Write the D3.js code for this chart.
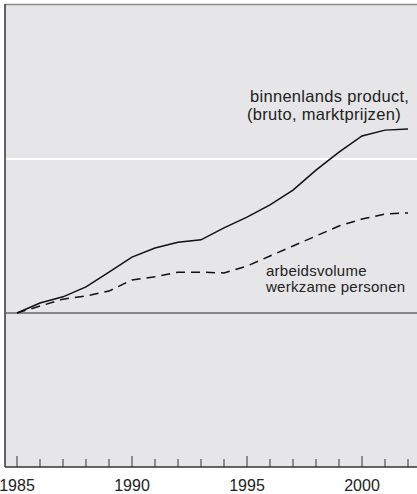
<!DOCTYPE html>
<meta charset="utf-8">
<style>
body { margin: 0; background: #fff; }
text { font-family: "Liberation Sans", Arial, sans-serif; fill: #222; }
.label { font-size: 16.5px; letter-spacing: 0.3px; }
.label2 { font-size: 15px; letter-spacing: 0.25px; }
.axis text { font-size: 16px; }
</style>
<svg width="417" height="494"></svg>
<script src="https://cdn.jsdelivr.net/npm/d3@7"></script>
<script>

// index, 1985 = 0
var years = [1985, 1986, 1987, 1988, 1989, 1990, 1991, 1992, 1993, 1994,
             1995, 1996, 1997, 1998, 1999, 2000, 2001, 2002];
var bbp = [0, 2.6, 4.2, 6.8, 10.6, 14.5, 16.9, 18.4, 19.0, 22.1,
           24.9, 28.1, 31.9, 37.1, 41.8, 46.0, 47.5, 47.8];
var arbeid = [0, 1.8, 3.6, 4.4, 5.7, 8.6, 9.4, 10.6, 10.6, 10.4,
              12.2, 14.8, 17.4, 20.0, 22.6, 24.4, 25.7, 26.0];
var labelYears = [1985, 1990, 1995, 2000];

var svg = d3.select("svg"),
    width = +svg.attr("width"),
    height = +svg.attr("height");

var pLeft = 5, pTop = 5, pBottom = 467;

var x = d3.scaleLinear().domain([1985, 2002]).range([17, 408]);
var y = d3.scaleLinear().domain([-40, 80]).range([pBottom, pTop]);

// panel
svg.append("rect")
    .attr("x", pLeft).attr("y", pTop)
    .attr("width", width - pLeft).attr("height", pBottom - pTop)
    .style("fill", "#e6e6e8");

svg.append("line")
    .attr("x1", pLeft).attr("x2", width)
    .attr("y1", pTop - 0.5).attr("y2", pTop - 0.5)
    .style("stroke", "#8a8a8a").style("stroke-width", 1.5);

svg.append("line")
    .attr("x1", pLeft).attr("x2", pLeft)
    .attr("y1", pTop - 1).attr("y2", pBottom)
    .style("stroke", "#333").style("stroke-width", 1.5);

// gridline and zero line
svg.append("line")
    .attr("x1", pLeft + 1).attr("x2", width)
    .attr("y1", y(40)).attr("y2", y(40))
    .style("stroke", "#fff").style("stroke-width", 2);

svg.append("line")
    .attr("x1", pLeft + 1).attr("x2", width)
    .attr("y1", y(0)).attr("y2", y(0))
    .style("stroke", "#666").style("stroke-width", 1.5);

// x axis
var xAxis = svg.append("g")
    .attr("class", "axis")
    .attr("transform", "translate(0," + pBottom + ")");

xAxis.append("line")
    .attr("x1", pLeft).attr("x2", width)
    .style("stroke", "#333").style("stroke-width", 1.5);

xAxis.selectAll(".tick")
    .data(years)
    .enter().append("line")
      .attr("x1", function(d) { return x(d); })
      .attr("x2", function(d) { return x(d); })
      .attr("y1", 0)
      .attr("y2", function(d) { return labelYears.indexOf(d) >= 0 ? -11 : -8; })
      .style("stroke", "#333").style("stroke-width", 1);

xAxis.selectAll("text")
    .data(labelYears)
    .enter().append("text")
      .attr("x", function(d) { return x(d); })
      .attr("y", 24)
      .attr("text-anchor", "middle")
      .text(function(d) { return d; });

// lines
var line = d3.line()
    .x(function(d, i) { return x(years[i]); })
    .y(function(d) { return y(d); });

svg.append("path")
    .datum(bbp)
    .attr("d", line)
    .style("fill", "none").style("stroke", "#111").style("stroke-width", 1.5);

svg.append("path")
    .datum(arbeid)
    .attr("d", line)
    .style("fill", "none").style("stroke", "#111").style("stroke-width", 1.5)
    .style("stroke-dasharray", "9,6");

// labels
var lab1 = svg.append("text").attr("class", "label").attr("y", 102);
lab1.append("tspan").attr("x", 250).text("binnenlands product,");
lab1.append("tspan").attr("x", 247).attr("dy", 18).text("(bruto, marktprijzen)");

var lab2 = svg.append("text").attr("class", "label2").attr("y", 276);
lab2.append("tspan").attr("x", 266).text("arbeidsvolume");
lab2.append("tspan").attr("x", 266).attr("dy", 16).text("werkzame personen");

</script>
